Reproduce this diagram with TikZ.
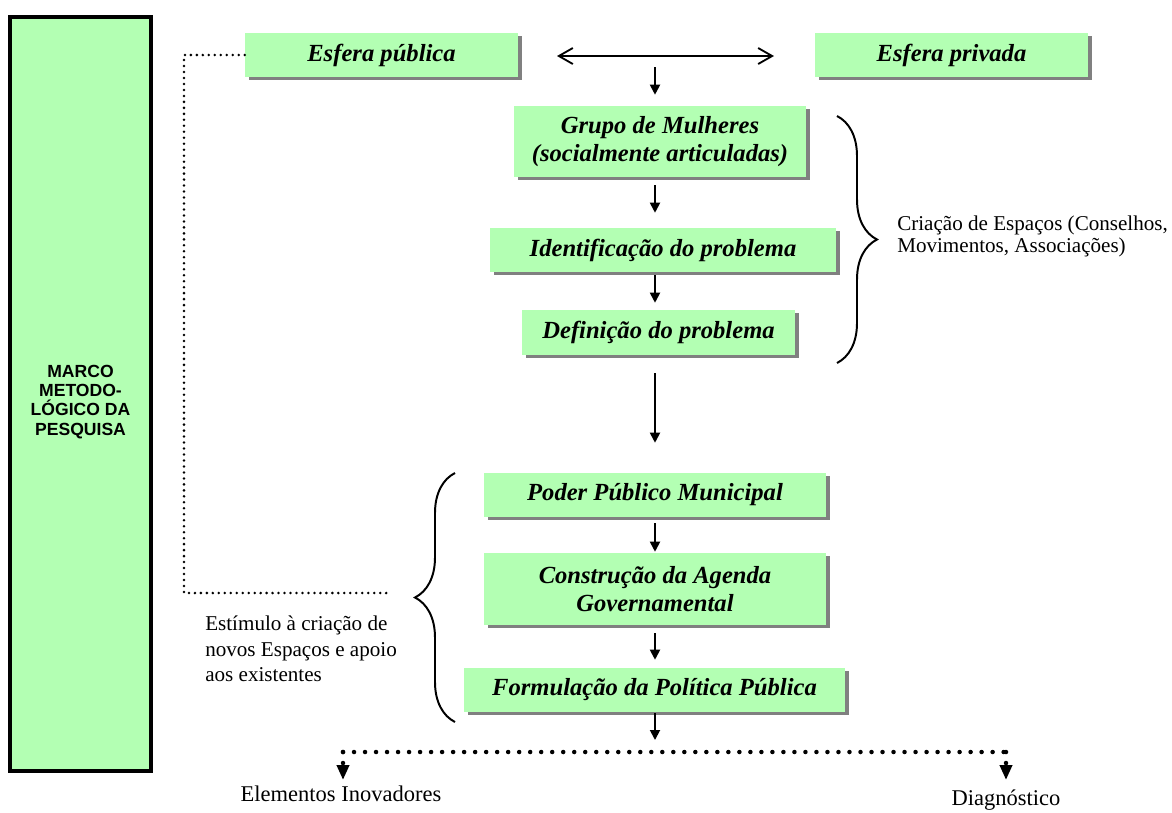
\documentclass[tikz,border=0pt]{standalone}
\usepackage{fontspec}
\setmainfont{Liberation Serif}
\setsansfont{Liberation Sans}
\usetikzlibrary{arrows.meta,decorations.pathreplacing,shadows}
\definecolor{verde}{RGB}{179,255,179}
\definecolor{sombra}{RGB}{128,128,128}
\begin{document}
\begin{tikzpicture}[x=0.025cm, y=-0.025cm] % 1 unidade = 1 pixel
\tikzstyle{caixa} = [fill=verde, inner sep=0pt, align=center, font=\bfseries\itshape\fontsize{17.5}{20}\selectfont, drop shadow={shadow xshift=0.1cm, shadow yshift=-0.08cm, fill=sombra, opacity=1}] % caixa verde com sombra
\tikzstyle{seta} = [line width=1.3pt, -{Triangle[length=0.25cm, width=0.25cm]}] % seta para baixo
\tikzstyle{pontinhos} = [line width=2pt, line cap=round, dash pattern=on 0pt off 4.25pt] % linha pontilhada fina
\tikzstyle{pontos} = [line width=3.2pt, line cap=round, dash pattern=on 0pt off 7.83pt] % linha de pontos grossos
\tikzstyle{chave} = [line width=1.4pt, decorate, decoration={brace, amplitude=1cm}] % chave
\tikzstyle{texto} = [inner sep=0pt, font=\fontsize{15}{15.6}\selectfont] % texto comum
\useasboundingbox (0,0) rectangle (1172,812);
% marco metodologico
\node[draw, line width=2.8pt, fill=verde, minimum width=3.525cm, minimum height=18.85cm] (marco) at (80.5,394) {};
\node[align=center, inner sep=0pt, font=\sffamily\bfseries\fontsize{12.5}{13.6}\selectfont] (rotulo) at (80.5,402) {MARCO\\METODO-\\LÓGICO DA\\PESQUISA};
% esferas
\node[caixa, minimum width=6.825cm, minimum height=1.1cm] (pub) at (381.5,55) {Esfera pública};
\node[caixa, minimum width=6.825cm, minimum height=1.1cm] (priv) at (951.5,55) {Esfera privada};
\coordinate (ea) at (557,56);
\coordinate (eb) at (774,56);
\draw[line width=1.3pt, {Straight Barb[length=0.35cm, width=0.4cm]}-{Straight Barb[length=0.35cm, width=0.4cm]}] (ea) -- (eb);
% fluxo
\node[caixa, minimum width=7.3cm, minimum height=1.775cm] (grupo) at (660,141.5) {Grupo de Mulheres\\(socialmente articuladas)};
\node[caixa, minimum width=8.65cm, minimum height=1.1cm] (ident) at (663,250) {Identificação do problema};
\node[caixa, minimum width=6.825cm, minimum height=1.125cm] (defin) at (658.5,332.5) {Definição do problema};
\node[caixa, minimum width=8.55cm, minimum height=1.1cm] (poder) at (655,495) {Poder Público Municipal};
\node[caixa, minimum width=8.55cm, minimum height=1.8cm] (constr) at (655,589) {Construção da Agenda\\Governamental};
\node[caixa, minimum width=9.525cm, minimum height=1.1cm] (formul) at (654.5,690) {Formulação da Política Pública};
\coordinate (eixo) at (655,0);
\coordinate (meio) at (655,67);
\coordinate (linha) at (655,752);
\draw[seta, shorten >=0.275cm] (meio) -- (grupo.north -| eixo);
\draw[seta, shorten <=0.2cm, shorten >=0.375cm] (grupo.south -| eixo) -- (ident.north -| eixo);
\draw[seta, shorten <=0.075cm, shorten >=0.175cm] (ident.south -| eixo) -- (defin.north -| eixo);
\draw[seta, shorten <=0.45cm, shorten >=0.75cm] (defin.south -| eixo) -- (poder.north -| eixo);
\draw[seta, shorten <=0.15cm, shorten >=0.025cm] (poder.south -| eixo) -- (constr.north -| eixo);
\draw[seta, shorten <=0.2cm, shorten >=0.2cm] (constr.south -| eixo) -- (formul.north -| eixo);
\draw[seta, shorten <=0.025cm, shorten >=0.3cm] (formul.south -| eixo) -- (linha);
% chaves
\coordinate (cha) at (837,116);
\coordinate (chb) at (837,363);
\draw[chave] (cha) -- (chb);
\node[texto, anchor=west, align=left] (criacao) at (897,236) {Criação de Espaços (Conselhos,\\Movimentos, Associações)};
\coordinate (chc) at (455,722);
\coordinate (chd) at (455,473);
\draw[chave] (chc) -- (chd);
\node[texto, anchor=west, align=left, font=\fontsize{15}{18}\selectfont] (estimulo) at (205,649) {Estímulo à criação de\\novos Espaços e apoio\\aos existentes};
% ligacao pontilhada
\coordinate (canto) at (184,593);
\coordinate (fim) at (392,593);
\draw[pontinhos] (pub.west) -| (canto) -- (fim);
% saidas
\coordinate (esq) at (343,752);
\coordinate (dir) at (1006,752);
\draw[pontos] (esq) -- (dir);
\node[texto, anchor=north, font=\fontsize{16}{18}\selectfont] (elem) at (341,786) {Elementos Inovadores};
\node[texto, anchor=north, font=\fontsize{16}{18}\selectfont] (diag) at (1006,790) {Diagnóstico};
\draw[pontos, -{Triangle[length=0.375cm, width=0.3cm]}, shorten >=0.15cm] (esq) -- (elem.north -| esq);
\draw[pontos, -{Triangle[length=0.375cm, width=0.3cm]}, shorten >=0.25cm] (dir) -- (diag.north);
\end{tikzpicture}
\end{document}
